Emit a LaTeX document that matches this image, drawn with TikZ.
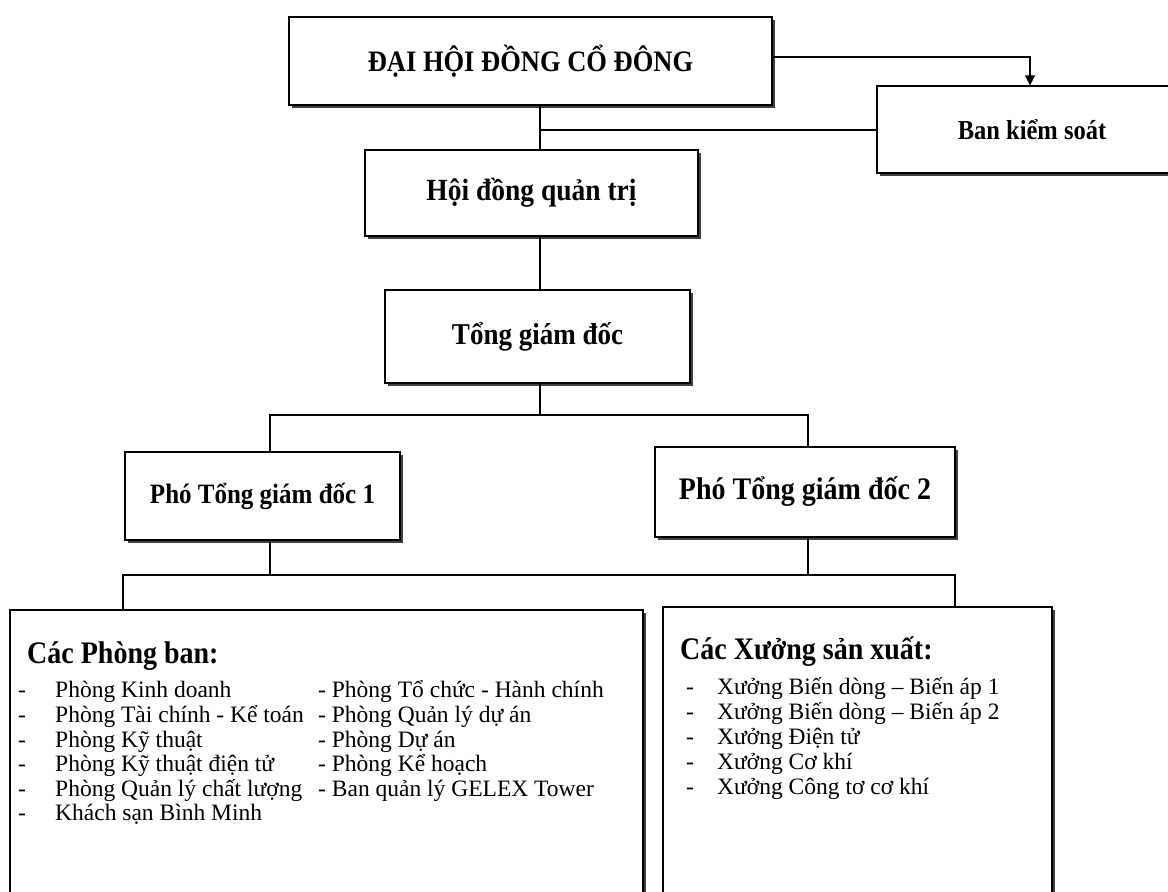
\documentclass[tikz,border=0pt]{standalone}
\usepackage{fontspec}
\usepackage{graphicx}
\setmainfont{Liberation Serif}
\usetikzlibrary{shadows,arrows.meta}
\newcommand{\talltext}[1]{\scalebox{1}[1.12]{#1}}
\tikzset{
  box/.style={draw, line width=1.3pt, fill=white, inner sep=0pt,
    drop shadow={shadow xshift=3pt, shadow yshift=-3pt, fill=black!75, opacity=1}},
  lbl/.style={font=\fontsize{#1}{30}\selectfont\bfseries},
  head/.style={anchor=west, inner sep=0pt, font=\fontsize{28}{32}\selectfont\bfseries},
  item/.style={anchor=west, inner sep=0pt, text height=17pt, text depth=5pt,
    font=\fontsize{23.5}{26}\selectfont},
  conn/.style={line width=1.3pt},
  arr/.style={line width=1.3pt, -{Triangle[length=10pt,width=10pt]}}
}
\begin{document}
\begin{tikzpicture}[x=1pt,y=-1pt]
\useasboundingbox (0,0) rectangle (1168,892);
\clip (0,0) rectangle (1168,892);
% boxes
\node[box, lbl=26.5, minimum width=483pt, minimum height=88pt] (dh) at (530.5,61) {\talltext{ĐẠI HỘI ĐỒNG CỔ ĐÔNG}};
\node[box, lbl=24.5, minimum width=310pt, minimum height=87pt] (bks) at (1032,129.5) {\talltext{Ban kiểm soát}};
\node[box, lbl=27.5, minimum width=333pt, minimum height=86pt] (hd) at (531.5,193) {\talltext{Hội đồng quản trị}};
\node[box, lbl=27, minimum width=305pt, minimum height=93pt] (tg) at (537.5,336.5) {\talltext{Tổng giám đốc}};
\node[box, lbl=25, minimum width=275pt, minimum height=88pt] (p1) at (262.5,496) {\talltext{Phó Tổng giám đốc 1}};
\node[box, lbl=28, minimum width=300pt, minimum height=90pt] (p2) at (805,492) {\talltext{Phó Tổng giám đốc 2}};
\node[box, minimum width=633pt, minimum height=300pt] (lb) at (326.5,760) {};
\node[box, minimum width=389pt, minimum height=300pt] (rb) at (857.5,757) {};
% junction coordinates
\coordinate (a1) at (1030,57);
\coordinate (j1) at (540,130);
\coordinate (j2) at (540,415);
\coordinate (b1) at (270,415);
\coordinate (b2) at (808,415);
\coordinate (c1) at (123,575);
\coordinate (c2) at (955,575);
% connectors
\draw[arr] (dh.east |- a1) -- (a1) -- (a1 |- bks.north);
\draw[conn] (dh.south -| j1) -- (hd.north -| j1);
\draw[conn] (j1) -- (j1 -| bks.west);
\draw[conn] (hd.south -| j1) -- (tg.north -| j1);
\draw[conn] (tg.south -| j2) -- (j2);
\draw[conn] (b1 |- p1.north) -- (b1) -- (b2) -- (b2 |- p2.north);
\draw[conn] (p1.south -| b1) -- (b1 |- c1);
\draw[conn] (p2.south -| b2) -- (b2 |- c2);
\draw[conn] (c1 |- lb.north) -- (c1) -- (c2) -- (c2 |- rb.north);
% left box text
\node[head] (lh) at (27,656) {\talltext{Các Phòng ban:}};
\node[item] (ld1) at (18,691) {-};
\node[item] (ld2) at (18,716) {-};
\node[item] (ld3) at (18,741) {-};
\node[item] (ld4) at (18,765) {-};
\node[item] (ld5) at (18,790) {-};
\node[item] (ld6) at (18,814) {-};
\node[item] (l1) at (55,691) {Phòng Kinh doanh};
\node[item] (l2) at (55,716) {Phòng Tài chính - Kể toán};
\node[item] (l3) at (55,741) {Phòng Kỹ thuật};
\node[item] (l4) at (55,765) {Phòng Kỹ thuật điện tử};
\node[item] (l5) at (55,790) {Phòng Quản lý chất lượng};
\node[item] (l6) at (55,814) {Khách sạn Bình Minh};
\node[item] (m1) at (318,691) {- Phòng Tổ chức - Hành chính};
\node[item] (m2) at (318,716) {- Phòng Quản lý dự án};
\node[item] (m3) at (318,741) {- Phòng Dự án};
\node[item] (m4) at (318,765) {- Phòng Kể hoạch};
\node[item] (m5) at (318,790) {- Ban quản lý GELEX Tower};
% right box text
\node[head] (rh) at (680,652) {\talltext{Các Xưởng sản xuất:}};
\node[item] (rd1) at (686,688) {-};
\node[item] (rd2) at (686,713) {-};
\node[item] (rd3) at (686,738) {-};
\node[item] (rd4) at (686,763) {-};
\node[item] (rd5) at (686,788) {-};
\node[item] (r1) at (717,688) {Xưởng Biến dòng – Biến áp 1};
\node[item] (r2) at (717,713) {Xưởng Biến dòng – Biến áp 2};
\node[item] (r3) at (717,738) {Xưởng Điện tử};
\node[item] (r4) at (717,763) {Xưởng Cơ khí};
\node[item] (r5) at (717,788) {Xưởng Công tơ cơ khí};
\end{tikzpicture}
\end{document}
